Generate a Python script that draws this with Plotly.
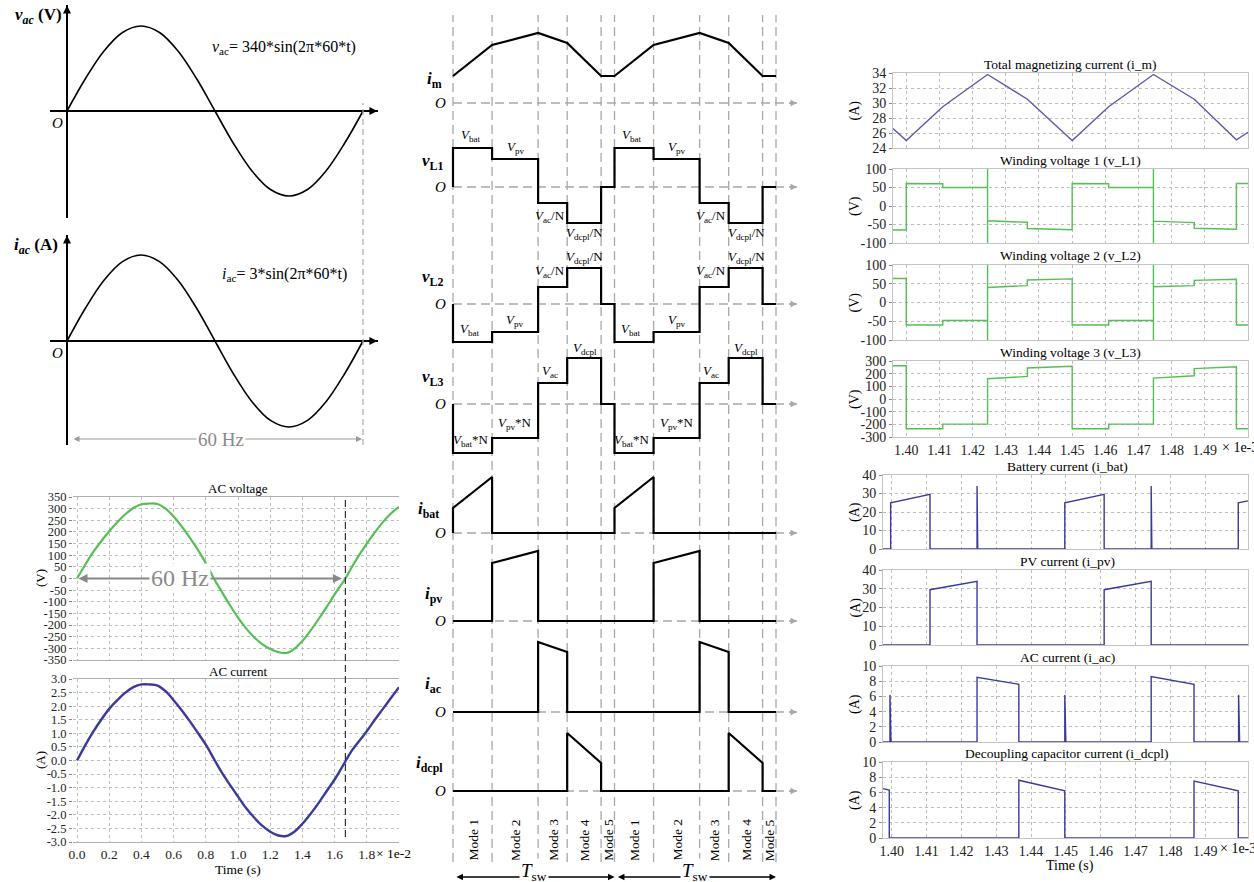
import plotly.graph_objects as go

W, H = 1254, 882
SERIF = "Liberation Serif"
GREEN = "#55bf55"
PURPLE = "#5a5aa8"
NAVY = "#3a3a9a"
GRID = "#bdbdbd"
DASHG = "#a8a8a8"

# ======================= DATA =======================
# --- top-left: ideal 60 Hz waveforms (t in ms, one cycle)
sch_t = [0, 1.042, 2.083, 3.125, 4.167, 5.208, 6.25, 7.292, 8.333,
         9.375, 10.417, 11.458, 12.5, 13.542, 14.583, 15.625, 16.667]
sch_vac = [0, 130, 240, 314, 340, 314, 240, 130, 0,
           -130, -240, -314, -340, -314, -240, -130, 0]
sch_iac = [0, 1.15, 2.12, 2.77, 3.0, 2.77, 2.12, 1.15, 0,
           -1.15, -2.12, -2.77, -3.0, -2.77, -2.12, -1.15, 0]
sch_period = 16.667

# --- bottom-left: simulated AC voltage / current (t in 1e-2 s)
sim_tv = [0, 0.05, 0.1, 0.15, 0.2, 0.25, 0.3, 0.35, 0.4, 0.45, 0.5, 0.55, 0.6, 0.65,
          0.7, 0.75, 0.8, 0.85, 0.9, 0.95, 1.0, 1.05, 1.1, 1.15, 1.2, 1.25, 1.3, 1.35,
          1.4, 1.45, 1.5, 1.55, 1.6, 1.667, 1.7, 1.75, 1.8, 1.85, 1.9, 1.95, 2.0]
sim_vac = [0, 58, 113, 160, 203, 242, 276, 303, 319, 322, 320, 300, 266, 224,
           176, 124, 66, 0, -58, -115, -168, -214, -252, -282, -303, -316, -320, -302,
           -268, -224, -175, -123, -68, 0, 40, 98, 150, 198, 242, 279, 308]
sim_ti = [0, 0.05, 0.1, 0.15, 0.2, 0.25, 0.3, 0.35, 0.4, 0.45, 0.5, 0.55, 0.6, 0.65,
          0.7, 0.75, 0.8, 0.856, 0.9, 0.95, 1.0, 1.05, 1.1, 1.15, 1.2, 1.25, 1.3, 1.35,
          1.4, 1.45, 1.5, 1.55, 1.6, 1.67, 1.7, 1.75, 1.8, 1.85, 1.9, 1.95, 2.0]
sim_iac = [0, 0.55, 1.05, 1.5, 1.9, 2.22, 2.5, 2.7, 2.8, 2.8, 2.76, 2.55, 2.22, 1.85,
           1.45, 1.02, 0.58, 0, -0.45, -0.9, -1.33, -1.75, -2.1, -2.4, -2.62, -2.76, -2.78,
           -2.62, -2.33, -1.97, -1.57, -1.13, -0.7, 0, 0.3, 0.7, 1.08, 1.5, 1.9, 2.3, 2.7]
sim_period = 1.667

# --- middle: operating modes (durations as fraction of Tsw), per-mode [start, end] levels
mode_dur = [0.242, 0.285, 0.180, 0.210, 0.083]
mode_names = ["Mode 1", "Mode 2", "Mode 3", "Mode 4", "Mode 5"]
im_seg = [[27, 58], [58, 70], [70, 60], [60, 27], [27, 27]]
vL1_seg = [[39, 39], [28, 28], [-16, -16], [-36, -36], [0, 0]]
vL2_seg = [[-38, -38], [-28, -28], [17, 17], [36, 36], [0, 0]]
vL3_seg = [[-49, -49], [-34, -34], [21, 21], [46, 46], [0, 0]]
ibat_seg = [[25, 56], [0, 0], [0, 0], [0, 0], [0, 0]]
ipv_seg = [[0, 0], [58, 70], [0, 0], [0, 0], [0, 0]]
iac_seg = [[0, 0], [0, 0], [70, 60], [0, 0], [0, 0]]
idcpl_seg = [[0, 0], [0, 0], [0, 0], [58, 28], [0, 0]]

# --- right: simulated switching waveforms (t in 1e-3 s)
im_t = [1.396, 1.400, 1.411, 1.4245, 1.4365, 1.450, 1.461, 1.4745, 1.4868, 1.4995, 1.503]
im_v = [26.6, 25.0, 29.5, 33.8, 30.5, 25.0, 29.5, 33.8, 30.5, 25.1, 26.1]
vl_t = [1.396, 1.400, 1.400, 1.411, 1.411, 1.4245, 1.4245, 1.4245, 1.4245, 1.4365, 1.4365,
        1.450, 1.450, 1.461, 1.461, 1.4745, 1.4745, 1.4745, 1.4745, 1.4868, 1.4868,
        1.4995, 1.4995, 1.503]
vl1_v = [-65, -65, 61, 60, 50, 50, -100, 100, -40, -44, -61, -64, 61, 60, 50, 50,
         -100, 100, -41, -45, -60, -63, 61, 61]
vl2_v = [64, 64, -60, -60, -48, -48, 100, -100, 40, 45, 60, 63, -60, -60, -48, -48,
         100, -100, 42, 45, 59, 62, -60, -60]
vl3_t = [1.396, 1.400, 1.400, 1.411, 1.411, 1.4245, 1.4245, 1.4365, 1.4365, 1.450, 1.450,
         1.461, 1.461, 1.4745, 1.4745, 1.4868, 1.4868, 1.4995, 1.4995, 1.503]
vl3_v = [262, 262, -235, -235, -198, -198, 160, 178, 245, 258, -235, -235, -198, -198,
         165, 183, 240, 255, -235, -235]
ibat_t = [1.3975, 1.3997, 1.3997, 1.411, 1.411, 1.4245, 1.4245, 1.4247, 1.4497, 1.4497,
          1.461, 1.461, 1.4745, 1.4745, 1.4747, 1.4995, 1.4995, 1.5023]
ibat_v = [0, 0, 25, 29.5, 0, 0, 34, 0, 0, 25, 29.5, 0, 0, 34, 0, 0, 25, 26]
ipv_t = [1.3975, 1.411, 1.411, 1.4245, 1.4245, 1.461, 1.461, 1.4745, 1.4745, 1.5023]
ipv_v = [0, 0, 29.5, 34, 0, 0, 29.5, 34, 0, 0]
iac_t = [1.3975, 1.3995, 1.3995, 1.3998, 1.4245, 1.4245, 1.4365, 1.4365, 1.4497, 1.4497,
         1.4500, 1.4745, 1.4745, 1.4868, 1.4868, 1.4996, 1.4996, 1.4999, 1.5023]
iac_v = [0, 0, 6.2, 0, 0, 8.5, 7.6, 0, 0, 6.2, 0, 0, 8.6, 7.6, 0, 0, 6.2, 0, 0]
idc_t = [1.3975, 1.3993, 1.3993, 1.4365, 1.4365, 1.4497, 1.4497, 1.4868, 1.4868, 1.4995,
         1.4995, 1.5023]
idc_v = [6.5, 6.3, 0, 0, 7.6, 6.2, 0, 0, 7.5, 6.2, 0, 0]
rt_ticks = [1.40, 1.41, 1.42, 1.43, 1.44, 1.45, 1.46, 1.47, 1.48, 1.49]

# ======================= FIGURE =======================
fig = go.Figure()
layout = dict(width=W, height=H, margin=dict(l=0, r=0, t=0, b=0),
              paper_bgcolor="white", plot_bgcolor="rgba(0,0,0,0)", showlegend=False,
              template="none", font=dict(family=SERIF, size=13, color="black"))
shapes, annos = [], []
n_axes = [0]


def new_axes(xdom, ydom, xr, yr, xo=None, yo=None):
    n_axes[0] += 1
    n = n_axes[0]
    s = "" if n == 1 else str(n)
    xa = dict(domain=[xdom[0] / W, xdom[1] / W], range=xr, anchor="y" + s,
              showgrid=False, zeroline=False, showticklabels=False, ticks="",
              showline=False, fixedrange=True)
    ya = dict(domain=[1 - ydom[1] / H, 1 - ydom[0] / H], range=yr, anchor="x" + s,
              showgrid=False, zeroline=False, showticklabels=False, ticks="",
              showline=False, fixedrange=True)
    xa.update(xo or {})
    ya.update(yo or {})
    layout["xaxis" + s] = xa
    layout["yaxis" + s] = ya
    return "x" + s, "y" + s


def txt(x, y, s, size=13, xref="paper", yref="paper", color="black", **kw):
    if xref == "paper":
        x = x / W
    if yref == "paper":
        y = 1 - y / H
    d = dict(x=x, y=y, xref=xref, yref=yref, text=s, showarrow=False,
             font=dict(family=SERIF, size=size, color=color),
             xanchor=kw.pop("xanchor", "center"), yanchor=kw.pop("yanchor", "middle"))
    d.update(kw)
    annos.append(d)


def arrow(**kw):
    d = dict(text="", showarrow=True, arrowhead=2, arrowsize=1,
             font=dict(family=SERIF, size=10))
    d.update(kw)
    annos.append(d)


def line(x, y, xa, ya, color, width, shape="linear"):
    fig.add_trace(go.Scatter(x=x, y=y, mode="lines", xaxis=xa, yaxis=ya,
                             line=dict(color=color, width=width, shape=shape),
                             hoverinfo="skip"))


def ytickstyle(size):
    return dict(ticks="outside", ticklen=3, tickcolor="#888", tickwidth=1,
                showticklabels=True,
                tickfont=dict(family=SERIF, size=size, color="#222"))


def xtickstyle(size):
    return dict(ticks="", showticklabels=True,
                tickfont=dict(family=SERIF, size=size, color="#222"))


# ---------------- top-left schematic ----------------
px_per_ms = (363 - 67) / sch_period
tl_xr = [(50 - 67) / px_per_ms, (378 - 67) / px_per_ms]
zl = dict(zeroline=True, zerolinecolor="black", zerolinewidth=1.6)
tl_specs = [
    ((5, 218), 111, 85 / 340, sch_vac,
     "<b><i>v<sub>ac</sub></i> (V)</b>", (38, 16),
     "<i>v</i><sub>ac</sub>= 340*sin(2π*60*t)", (284, 48)),
    ((235, 445), 341, 86 / 3.0, sch_iac,
     "<b><i>i<sub>ac</sub></i> (A)</b>", (36, 246),
     "<i>i</i><sub>ac</sub>= 3*sin(2π*60*t)", (284, 274)),
]
tl_axes = []
for ydom, y0, scale, vals, lab, labpos, formula, fpos in tl_specs:
    yr = [-(ydom[1] - y0) / scale, (y0 - ydom[0]) / scale]
    xa, ya = new_axes((50, 378), ydom, tl_xr, yr, xo=zl, yo=zl)
    tl_axes.append(xa)
    line(sch_t, vals, xa, ya, "black", 1.6, "spline")
    arrow(x=0, y=yr[1] * 0.995, xref=xa, yref=ya, ax=0, ay=10, arrowwidth=1.6,
          arrowcolor="black")
    arrow(x=tl_xr[1] * 0.998, y=0, xref=xa, yref=ya, ax=-10, ay=0, arrowwidth=1.6,
          arrowcolor="black")
    txt(labpos[0], labpos[1], lab, size=17)
    txt(57, y0 + 12, "<i>O</i>", size=15)
    txt(fpos[0], fpos[1], formula, size=16)

shapes.append(dict(type="line", xref=tl_axes[0], yref="paper", x0=sch_period,
                   x1=sch_period, y0=1 - 445 / H, y1=1 - 103 / H,
                   line=dict(color=DASHG, width=1.2, dash="6px,4px")))
arrow(x=(362 - 67) / px_per_ms, y=1 - 439 / H, xref=tl_axes[0], yref="paper",
      ax=(72 - 67) / px_per_ms, ay=0, axref=tl_axes[0], ayref="pixel",
      arrowside="end+start", arrowwidth=1.2, arrowcolor="#999")
txt(221, 439, "60 Hz", size=19, color="#8a8a8a", bgcolor="white")

# ---------------- bottom-left simulation ----------------
bl_xr = [-0.025, 2.0]
gridx = dict(showgrid=True, griddash="dot", gridcolor=GRID, gridwidth=1,
             showline=True, mirror=True, linecolor="#b0b0b0", linewidth=1,
             tickvals=[0, 0.2, 0.4, 0.6, 0.8, 1.0, 1.2, 1.4, 1.6, 1.8])
v_ticks = list(range(-350, 351, 50))
xa_v, ya_v = new_axes((73, 399), (497, 660), bl_xr, [-350, 350], xo=dict(gridx),
                      yo=dict(showgrid=True, griddash="dot", gridcolor=GRID,
                              tickvals=v_ticks, ticktext=[str(v) for v in v_ticks],
                              **ytickstyle(12.5)))
line(sim_tv, sim_vac, xa_v, ya_v, GREEN, 2.2, "spline")
i_ticks = [-3.0, -2.5, -2.0, -1.5, -1.0, -0.5, 0.0, 0.5, 1.0, 1.5, 2.0, 2.5, 3.0]
xo_i = dict(gridx)
xo_i.update(xtickstyle(13.5))
xo_i["ticktext"] = ["%.1f" % v for v in xo_i["tickvals"]]
xa_i, ya_i = new_axes((73, 399), (679, 842), bl_xr, [-3, 3], xo=xo_i,
                      yo=dict(showgrid=True, griddash="dot", gridcolor=GRID,
                              tickvals=i_ticks, ticktext=["%.1f" % v for v in i_ticks],
                              **ytickstyle(12.5)))
line(sim_ti, sim_iac, xa_i, ya_i, NAVY, 2.4, "spline")
txt(238, 489, "AC voltage", size=13)
txt(238, 671, "AC current", size=13)
txt(40, 578, "(V)", size=13, textangle=-90)
txt(40, 760, "(A)", size=13, textangle=-90)
txt(238, 869, "Time (s)", size=13.5)
txt(374, 853, "× 1e-2", size=13.5, xanchor="left")
shapes.append(dict(type="line", xref=xa_v, yref="paper", x0=sim_period, x1=sim_period,
                   y0=1 - 837 / H, y1=1 - 497 / H,
                   line=dict(color="#333", width=1.2, dash="7px,4px")))
arrow(x=1.645, y=0, xref=xa_v, yref=ya_v, ax=0.0, ay=0, axref=xa_v, ayref=ya_v,
      arrowside="end+start", arrowwidth=1.8, arrowcolor="#888")
txt(180, 578, "60 Hz", size=24, color="#8a8a8a", bgcolor="rgba(255,255,255,0.95)")

# ---------------- middle: theoretical waveforms ----------------
T0_PX, TSW_PX = 453, 161.5
mid_xr = [(440 - T0_PX) / TSW_PX, (800 - T0_PX) / TSW_PX]
bounds = [0.0]
for d in mode_dur:
    bounds.append(bounds[-1] + d)


def seg_wave(segs, start_zero=True):
    xs, ys = ([0.0], [0.0]) if start_zero else ([], [])
    for p in range(2):
        for k, (s, e) in enumerate(segs):
            xs += [p + bounds[k], p + bounds[k + 1]]
            ys += [s, e]
    return xs, ys


Vb, Vp = "<i>V</i><sub>bat</sub>", "<i>V</i><sub>pv</sub>"
Va, Vd = "<i>V</i><sub>ac</sub>", "<i>V</i><sub>dcpl</sub>"
mid_specs = [
    ("<b><i>i</i><sub>m</sub></b>", 103, 434, 23, im_seg, False, []),
    ("<b><i>v</i><sub>L1</sub></b>", 187, 432, 25, vL1_seg, True,
     [(0.111, 52, Vb), (0.39, 40, Vp), (0.60, -29, Va + "/N"), (0.815, -46, Vd + "/N")]),
    ("<b><i>v</i><sub>L2</sub></b>", 304, 432, 26, vL2_seg, True,
     [(0.105, -25, Vb), (0.384, -16, Vp), (0.60, 33, Va + "/N"), (0.815, 47, Vd + "/N")]),
    ("<b><i>v</i><sub>L3</sub></b>", 404, 432, 26, vL3_seg, True,
     [(0.111, -36, Vb + "*N"), (0.384, -19, Vp + "*N"), (0.60, 33, Va), (0.815, 56, Vd)]),
    ("<b><i>i</i><sub>bat</sub></b>", 533, 428, 23, ibat_seg, True, []),
    ("<b><i>i</i><sub>pv</sub></b>", 621, 433, 26, ipv_seg, True, []),
    ("<b><i>i</i><sub>ac</sub></b>", 712, 433, 27, iac_seg, True, []),
    ("<b><i>i</i><sub>dcpl</sub></b>", 791, 430, 27, idcpl_seg, True, []),
]
mid_first = None
for lab, y0, lx, loff, segs, sz, notes in mid_specs:
    xa, ya = new_axes((440, 800), (y0 - 75, y0 + 55), mid_xr, [-55, 75])
    if mid_first is None:
        mid_first = xa
    end_t = (797 - T0_PX) / TSW_PX
    shapes.append(dict(type="line", xref=xa, yref=ya, x0=0, x1=end_t, y0=0, y1=0,
                       line=dict(color=DASHG, width=1.3, dash="9px,5px"), layer="below"))
    arrow(x=end_t, y=0, xref=xa, yref=ya, ax=-9, ay=0, arrowwidth=1.3,
          arrowcolor=DASHG)
    xs, ys = seg_wave(segs, sz)
    line(xs, ys, xa, ya, "black", 2.2)
    txt(lx, loff, lab, size=17, yref=ya)
    txt(440, 0, "<i>O</i>", size=15, yref=ya)
    for p in range(2):
        for t, v, s in notes:
            txt(t + p, v, s, size=13, xref=xa, yref=ya)

for p in range(2):
    for b in bounds:
        if p == 1 and b == 0:
            continue
        shapes.append(dict(type="line", xref=mid_first, yref="paper", x0=p + b, x1=p + b,
                           y0=1 - 862 / H, y1=1 - 15 / H,
                           line=dict(color=DASHG, width=1.3, dash="9px,5px"),
                           layer="below"))
    for k, name in enumerate(mode_names):
        txt(p + (bounds[k] + bounds[k + 1]) / 2, 840, name, size=13.5,
            xref=mid_first, textangle=-90)
    arrow(x=p + 1.0, y=1 - 877 / H, xref=mid_first, yref="paper",
          ax=p + 0.012, ay=0, axref=mid_first, ayref="pixel",
          arrowside="end+start", arrowwidth=1.3, arrowcolor="black")
    txt(p + 0.5, 872, "<i>T</i><sub>sw</sub>", size=19, xref=mid_first,
        bgcolor="white")

# ---------------- right: simulated switching waveforms ----------------
rt_top = [
    ("Total magnetizing current (i_m)", (73, 148), [24, 34], [24, 26, 28, 30, 32, 34],
     "(A)", im_t, im_v, PURPLE),
    ("Winding voltage 1 (v_L1)", (169, 243), [-100, 100], [-100, -50, 0, 50, 100],
     "(V)", vl_t, vl1_v, GREEN),
    ("Winding voltage 2 (v_L2)", (265, 340), [-100, 100], [-100, -50, 0, 50, 100],
     "(V)", vl_t, vl2_v, GREEN),
    ("Winding voltage 3 (v_L3)", (361, 437), [-300, 300],
     [-300, -200, -100, 0, 100, 200, 300], "(V)", vl3_t, vl3_v, GREEN),
]
rt_bot = [
    ("Battery current (i_bat)", (475, 549), [0, 40], [0, 10, 20, 30, 40], "(A)",
     ibat_t, ibat_v, NAVY),
    ("PV current (i_pv)", (570, 645), [0, 40], [0, 10, 20, 30, 40], "(A)",
     ipv_t, ipv_v, NAVY),
    ("AC current (i_ac)", (666, 742), [0, 10], [0, 2, 4, 6, 8, 10], "(A)",
     iac_t, iac_v, NAVY),
    ("Decoupling capacitor current (i_dcpl)", (762, 838), [0, 10], [0, 2, 4, 6, 8, 10],
     "(A)", idc_t, idc_v, NAVY),
]
for group, xdom, xr, tcx, xlab_x in [(rt_top, (893, 1248), [1.396, 1.503], 1070, 1220),
                                     (rt_bot, (883, 1248), [1.3975, 1.5023], 1067, 1218)]:
    for i, (title, ydom, yr, yt, ylab, tx, ty, col) in enumerate(group):
        last = i == len(group) - 1
        xo = dict(showgrid=True, griddash="dot", gridcolor=GRID, tickvals=rt_ticks,
                  showline=True, mirror=True, linecolor="#c4c4c4", linewidth=1)
        if last:
            xo.update(xtickstyle(14))
            xo["ticktext"] = ["%.2f" % v for v in rt_ticks]
        yo = dict(showgrid=True, griddash="dot", gridcolor=GRID, tickvals=yt,
                  ticktext=[str(v) for v in yt], showline=True, mirror=True,
                  linecolor="#c4c4c4", linewidth=1)
        yo.update(ytickstyle(14))
        xa, ya = new_axes(xdom, ydom, xr, yr, xo=xo, yo=yo)
        line(tx, ty, xa, ya, col, 1.4)
        t_y = ydom[0] - 9 if not (group is rt_bot and i == 0) else ydom[0] - 8
        txt(tcx, t_y, title, size=13.5)
        txt(855, (ydom[0] + ydom[1]) / 2, ylab, size=14, textangle=-90)
        if last:
            txt(xlab_x, ydom[1] + 10, "× 1e-3", size=14, xanchor="left")
txt(1070, 866, "Time (s)", size=14)

layout["shapes"] = shapes
layout["annotations"] = annos
fig.update_layout(**layout)
fig.write_html("out.html")
